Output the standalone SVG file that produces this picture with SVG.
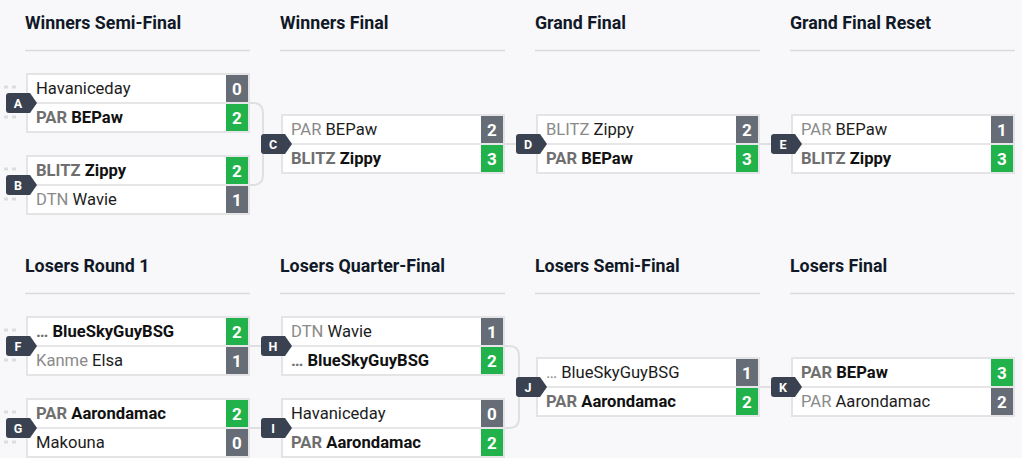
<svg xmlns="http://www.w3.org/2000/svg" width="1022" height="458" viewBox="0 0 1022 458">
<style>
text{font-family:Roboto,"Liberation Sans",Arial,sans-serif}
.hdr{font-size:17.8px;font-weight:700;fill:#111827}
.rule{stroke:#d9dadd;stroke-width:1.5}
.box{fill:#fff;stroke:#e4e4e7;stroke-width:2}
.sep{stroke:#e6e6e8;stroke-width:2}
.t{font-size:16.6px}
.tl{fill:#8a8a8a}
.nl{fill:#1c1c1c}
.tw{fill:#6f6f6f;font-weight:700}
.nw{fill:#111;font-weight:700}
.sg{fill:#666d76}
.sw{fill:#22b24b}
.sc{font-size:17px;font-weight:700;fill:#fff;text-anchor:middle}
.bd{fill:#3a4251}
.bl{font-size:12.5px;font-weight:700;fill:#fff;text-anchor:middle}
.con{fill:none;stroke:#e0e0e3;stroke-width:2}
.dash{fill:#dcdde0}
</style>
<rect width="1022" height="458" fill="#f8f8fa"/>
<g id="headers">
<text class="hdr" x="25" y="29">Winners Semi-Final</text>
<text class="hdr" x="280" y="29">Winners Final</text>
<text class="hdr" x="535" y="29">Grand Final</text>
<text class="hdr" x="790" y="29">Grand Final Reset</text>
<text class="hdr" x="25" y="272">Losers Round 1</text>
<text class="hdr" x="280" y="272">Losers Quarter-Final</text>
<text class="hdr" x="535" y="272">Losers Semi-Final</text>
<text class="hdr" x="790" y="272">Losers Final</text>
<line class="rule" x1="25" y1="50.5" x2="250" y2="50.5"/>
<line class="rule" x1="280" y1="50.5" x2="505" y2="50.5"/>
<line class="rule" x1="535" y1="50.5" x2="760" y2="50.5"/>
<line class="rule" x1="790" y1="50.5" x2="1015" y2="50.5"/>
<line class="rule" x1="25" y1="293.5" x2="250" y2="293.5"/>
<line class="rule" x1="280" y1="293.5" x2="505" y2="293.5"/>
<line class="rule" x1="535" y1="293.5" x2="760" y2="293.5"/>
<line class="rule" x1="790" y1="293.5" x2="1015" y2="293.5"/>
</g>
<g id="connectors">
<path class="con" d="M250,103 H253 Q263,103 263,113 V175 Q263,185 253,185 H250"/>
<line class="con" x1="505" y1="144" x2="520" y2="144"/>
<line class="con" x1="760" y1="144" x2="775" y2="144"/>
<line class="con" x1="250" y1="346" x2="265" y2="346"/>
<line class="con" x1="250" y1="428" x2="265" y2="428"/>
<path class="con" d="M505,346 H509 Q519,346 519,356 V418 Q519,428 509,428 H505"/>
<line class="con" x1="760" y1="387" x2="775" y2="387"/>
<rect class="dash" x="4" y="85.5" width="4" height="3"/><rect class="dash" x="12" y="85.5" width="4" height="3"/>
<rect class="dash" x="4" y="115.5" width="4" height="3"/><rect class="dash" x="12" y="115.5" width="4" height="3"/>
<rect class="dash" x="4" y="167.5" width="4" height="3"/><rect class="dash" x="12" y="167.5" width="4" height="3"/>
<rect class="dash" x="4" y="197.5" width="4" height="3"/><rect class="dash" x="12" y="197.5" width="4" height="3"/>
<rect class="dash" x="4" y="328.5" width="4" height="3"/><rect class="dash" x="12" y="328.5" width="4" height="3"/>
<rect class="dash" x="4" y="358.5" width="4" height="3"/><rect class="dash" x="12" y="358.5" width="4" height="3"/>
<rect class="dash" x="4" y="410.5" width="4" height="3"/><rect class="dash" x="12" y="410.5" width="4" height="3"/>
<rect class="dash" x="4" y="440.5" width="4" height="3"/><rect class="dash" x="12" y="440.5" width="4" height="3"/>
</g>
<g id="match-A" transform="translate(26,73)">
<rect class="box" x="1" y="1" width="222" height="58"/><line class="sep" x1="2" y1="30" x2="222" y2="30"/>
<text class="t" x="10" y="21"><tspan class="nl">Havaniceday</tspan></text>
<text class="t" x="10" y="50"><tspan class="tw">PAR</tspan> <tspan class="nw">BEPaw</tspan></text>
<rect class="sg" x="200" y="2" width="22" height="27"/><text class="sc" x="211" y="21.5">0</text>
<rect class="sw" x="200" y="31" width="22" height="27"/><text class="sc" x="211" y="50.5">2</text>
<path class="bd" d="M-17,20 H4 L11,30 L4,40 H-17 Q-20,40 -20,37 V23 Q-20,20 -17,20 Z"/><text class="bl" x="-8" y="34.5">A</text>
</g>
<g id="match-B" transform="translate(26,155)">
<rect class="box" x="1" y="1" width="222" height="58"/><line class="sep" x1="2" y1="30" x2="222" y2="30"/>
<text class="t" x="10" y="21"><tspan class="tw">BLITZ</tspan> <tspan class="nw">Zippy</tspan></text>
<text class="t" x="10" y="50"><tspan class="tl">DTN</tspan> <tspan class="nl">Wavie</tspan></text>
<rect class="sw" x="200" y="2" width="22" height="27"/><text class="sc" x="211" y="21.5">2</text>
<rect class="sg" x="200" y="31" width="22" height="27"/><text class="sc" x="211" y="50.5">1</text>
<path class="bd" d="M-17,20 H4 L11,30 L4,40 H-17 Q-20,40 -20,37 V23 Q-20,20 -17,20 Z"/><text class="bl" x="-8" y="34.5">B</text>
</g>
<g id="match-C" transform="translate(281,114)">
<rect class="box" x="1" y="1" width="222" height="58"/><line class="sep" x1="2" y1="30" x2="222" y2="30"/>
<text class="t" x="10" y="21"><tspan class="tl">PAR</tspan> <tspan class="nl">BEPaw</tspan></text>
<text class="t" x="10" y="50"><tspan class="tw">BLITZ</tspan> <tspan class="nw">Zippy</tspan></text>
<rect class="sg" x="200" y="2" width="22" height="27"/><text class="sc" x="211" y="21.5">2</text>
<rect class="sw" x="200" y="31" width="22" height="27"/><text class="sc" x="211" y="50.5">3</text>
<path class="bd" d="M-17,20 H4 L11,30 L4,40 H-17 Q-20,40 -20,37 V23 Q-20,20 -17,20 Z"/><text class="bl" x="-8" y="34.5">C</text>
</g>
<g id="match-D" transform="translate(536,114)">
<rect class="box" x="1" y="1" width="222" height="58"/><line class="sep" x1="2" y1="30" x2="222" y2="30"/>
<text class="t" x="10" y="21"><tspan class="tl">BLITZ</tspan> <tspan class="nl">Zippy</tspan></text>
<text class="t" x="10" y="50"><tspan class="tw">PAR</tspan> <tspan class="nw">BEPaw</tspan></text>
<rect class="sg" x="200" y="2" width="22" height="27"/><text class="sc" x="211" y="21.5">2</text>
<rect class="sw" x="200" y="31" width="22" height="27"/><text class="sc" x="211" y="50.5">3</text>
<path class="bd" d="M-17,20 H4 L11,30 L4,40 H-17 Q-20,40 -20,37 V23 Q-20,20 -17,20 Z"/><text class="bl" x="-8" y="34.5">D</text>
</g>
<g id="match-E" transform="translate(791,114)">
<rect class="box" x="1" y="1" width="222" height="58"/><line class="sep" x1="2" y1="30" x2="222" y2="30"/>
<text class="t" x="10" y="21"><tspan class="tl">PAR</tspan> <tspan class="nl">BEPaw</tspan></text>
<text class="t" x="10" y="50"><tspan class="tw">BLITZ</tspan> <tspan class="nw">Zippy</tspan></text>
<rect class="sg" x="200" y="2" width="22" height="27"/><text class="sc" x="211" y="21.5">1</text>
<rect class="sw" x="200" y="31" width="22" height="27"/><text class="sc" x="211" y="50.5">3</text>
<path class="bd" d="M-17,20 H4 L11,30 L4,40 H-17 Q-20,40 -20,37 V23 Q-20,20 -17,20 Z"/><text class="bl" x="-8" y="34.5">E</text>
</g>
<g id="match-F" transform="translate(26,316)">
<rect class="box" x="1" y="1" width="222" height="58"/><line class="sep" x1="2" y1="30" x2="222" y2="30"/>
<text class="t" x="10" y="21"><tspan class="tw">…</tspan> <tspan class="nw">BlueSkyGuyBSG</tspan></text>
<text class="t" x="10" y="50"><tspan class="tl">Kanme</tspan> <tspan class="nl">Elsa</tspan></text>
<rect class="sw" x="200" y="2" width="22" height="27"/><text class="sc" x="211" y="21.5">2</text>
<rect class="sg" x="200" y="31" width="22" height="27"/><text class="sc" x="211" y="50.5">1</text>
<path class="bd" d="M-17,20 H4 L11,30 L4,40 H-17 Q-20,40 -20,37 V23 Q-20,20 -17,20 Z"/><text class="bl" x="-8" y="34.5">F</text>
</g>
<g id="match-G" transform="translate(26,398)">
<rect class="box" x="1" y="1" width="222" height="58"/><line class="sep" x1="2" y1="30" x2="222" y2="30"/>
<text class="t" x="10" y="21"><tspan class="tw">PAR</tspan> <tspan class="nw">Aarondamac</tspan></text>
<text class="t" x="10" y="50"><tspan class="nl">Makouna</tspan></text>
<rect class="sw" x="200" y="2" width="22" height="27"/><text class="sc" x="211" y="21.5">2</text>
<rect class="sg" x="200" y="31" width="22" height="27"/><text class="sc" x="211" y="50.5">0</text>
<path class="bd" d="M-17,20 H4 L11,30 L4,40 H-17 Q-20,40 -20,37 V23 Q-20,20 -17,20 Z"/><text class="bl" x="-8" y="34.5">G</text>
</g>
<g id="match-H" transform="translate(281,316)">
<rect class="box" x="1" y="1" width="222" height="58"/><line class="sep" x1="2" y1="30" x2="222" y2="30"/>
<text class="t" x="10" y="21"><tspan class="tl">DTN</tspan> <tspan class="nl">Wavie</tspan></text>
<text class="t" x="10" y="50"><tspan class="tw">…</tspan> <tspan class="nw">BlueSkyGuyBSG</tspan></text>
<rect class="sg" x="200" y="2" width="22" height="27"/><text class="sc" x="211" y="21.5">1</text>
<rect class="sw" x="200" y="31" width="22" height="27"/><text class="sc" x="211" y="50.5">2</text>
<path class="bd" d="M-17,20 H4 L11,30 L4,40 H-17 Q-20,40 -20,37 V23 Q-20,20 -17,20 Z"/><text class="bl" x="-8" y="34.5">H</text>
</g>
<g id="match-I" transform="translate(281,398)">
<rect class="box" x="1" y="1" width="222" height="58"/><line class="sep" x1="2" y1="30" x2="222" y2="30"/>
<text class="t" x="10" y="21"><tspan class="nl">Havaniceday</tspan></text>
<text class="t" x="10" y="50"><tspan class="tw">PAR</tspan> <tspan class="nw">Aarondamac</tspan></text>
<rect class="sg" x="200" y="2" width="22" height="27"/><text class="sc" x="211" y="21.5">0</text>
<rect class="sw" x="200" y="31" width="22" height="27"/><text class="sc" x="211" y="50.5">2</text>
<path class="bd" d="M-17,20 H4 L11,30 L4,40 H-17 Q-20,40 -20,37 V23 Q-20,20 -17,20 Z"/><text class="bl" x="-8" y="34.5">I</text>
</g>
<g id="match-J" transform="translate(536,357)">
<rect class="box" x="1" y="1" width="222" height="58"/><line class="sep" x1="2" y1="30" x2="222" y2="30"/>
<text class="t" x="10" y="21"><tspan class="tl">…</tspan> <tspan class="nl">BlueSkyGuyBSG</tspan></text>
<text class="t" x="10" y="50"><tspan class="tw">PAR</tspan> <tspan class="nw">Aarondamac</tspan></text>
<rect class="sg" x="200" y="2" width="22" height="27"/><text class="sc" x="211" y="21.5">1</text>
<rect class="sw" x="200" y="31" width="22" height="27"/><text class="sc" x="211" y="50.5">2</text>
<path class="bd" d="M-17,20 H4 L11,30 L4,40 H-17 Q-20,40 -20,37 V23 Q-20,20 -17,20 Z"/><text class="bl" x="-8" y="34.5">J</text>
</g>
<g id="match-K" transform="translate(791,357)">
<rect class="box" x="1" y="1" width="222" height="58"/><line class="sep" x1="2" y1="30" x2="222" y2="30"/>
<text class="t" x="10" y="21"><tspan class="tw">PAR</tspan> <tspan class="nw">BEPaw</tspan></text>
<text class="t" x="10" y="50"><tspan class="tl">PAR</tspan> <tspan class="nl">Aarondamac</tspan></text>
<rect class="sw" x="200" y="2" width="22" height="27"/><text class="sc" x="211" y="21.5">3</text>
<rect class="sg" x="200" y="31" width="22" height="27"/><text class="sc" x="211" y="50.5">2</text>
<path class="bd" d="M-17,20 H4 L11,30 L4,40 H-17 Q-20,40 -20,37 V23 Q-20,20 -17,20 Z"/><text class="bl" x="-8" y="34.5">K</text>
</g>
</svg>
